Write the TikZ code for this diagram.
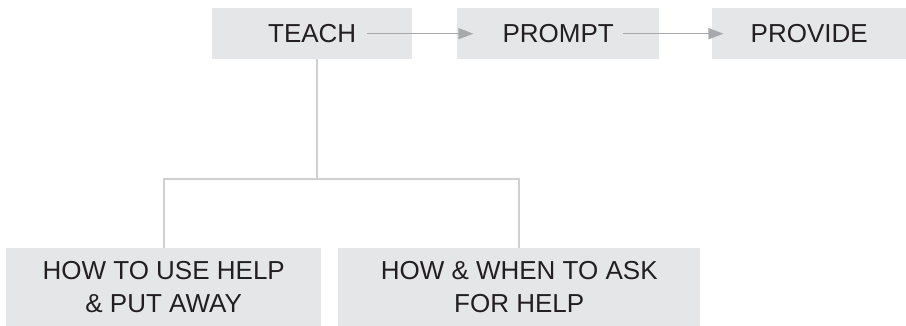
\documentclass[tikz,border=0pt]{standalone}
\usepackage{fontspec}
\setmainfont{Liberation Sans}
\usetikzlibrary{arrows.meta}
\definecolor{boxfill}{HTML}{E5E6E8}
\definecolor{linkgray}{HTML}{CFD0D2}
\definecolor{arrowgray}{HTML}{A7A9AC}
\definecolor{ink}{HTML}{231F20}
\begin{document}
\begin{tikzpicture}[x=1pt,y=-1pt,
  box/.style={fill=boxfill, draw=none, inner sep=0pt, anchor=north west},
  lbl/.style={inner sep=0pt, text=ink, align=center,
              font=\fontsize{26}{33}\selectfont},
  conn/.style={draw=linkgray, line width=2.2pt},
  arr/.style={draw=arrowgray, line width=1.3pt,
              -{Triangle[length=15pt,width=11pt]}}]
  \useasboundingbox (0,0) rectangle (906,326);

  % top row: the three steps
  \node[box, minimum width=200pt, minimum height=51pt] (teach)   at (212,8) {};
  \node[box, minimum width=202pt, minimum height=51pt] (prompt)  at (457,8) {};
  \node[box, minimum width=194pt, minimum height=51pt] (provide) at (712,8) {};
  \node[lbl] (teachlbl)   at (teach)   {TEACH};
  \node[lbl] (promptlbl)  at (prompt)  {PROMPT};
  \node[lbl] (providelbl) at (provide) {PROVIDE};

  % bottom row: what is taught
  \node[box, minimum width=315pt, minimum height=78pt] (howuse) at (6,248) {};
  \node[box, minimum width=362pt, minimum height=78pt] (howask) at (338,248) {};
  \node[lbl] (howuselbl) at (howuse) {HOW TO USE HELP\\\& PUT AWAY};
  \node[lbl] (howasklbl) at (howask) {HOW \& WHEN TO ASK\\FOR HELP};

  % sequence arrows
  \draw[arr, shorten <=11pt, shorten >=29pt] (teachlbl) -- (promptlbl);
  \draw[arr, shorten <=9pt, shorten >=27pt] (promptlbl) -- (providelbl);

  % branching connectors
  \coordinate (branch) at (317,179);
  \draw[conn] (branch |- teach.south) -- (branch);
  \draw[conn] (branch) -| (howuse.north);
  \draw[conn] (branch) -| (howask.north);
\end{tikzpicture}
\end{document}
